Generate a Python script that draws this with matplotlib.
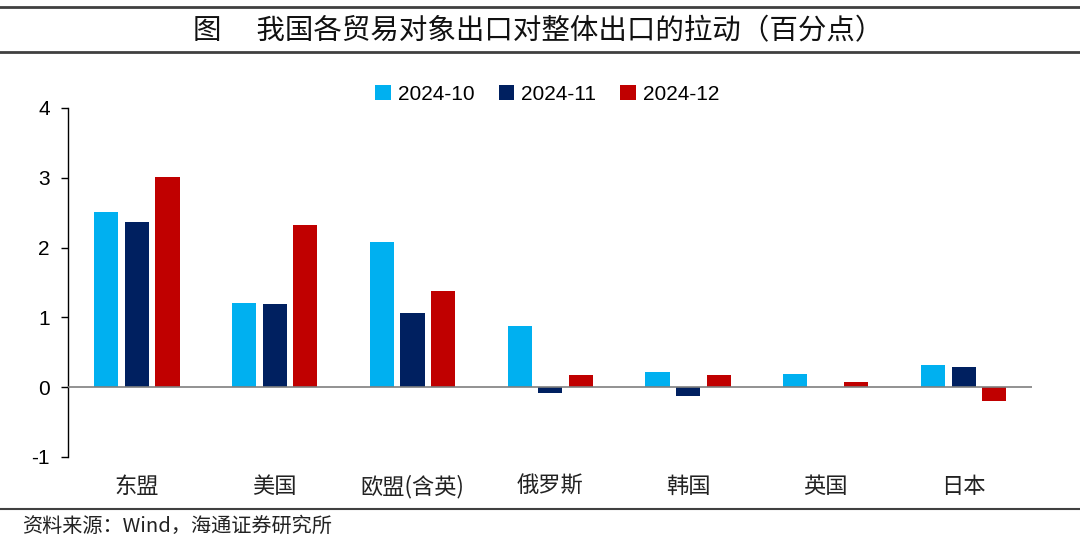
import numpy as np
import matplotlib.pyplot as plt
from matplotlib.lines import Line2D

plt.rcParams['font.family'] = ['Noto Sans CJK SC', 'DejaVu Sans']
plt.rcParams['axes.unicode_minus'] = False

categories = ['东盟', '美国', '欧盟(含英)', '俄罗斯', '韩国', '英国', '日本']
series_names = ['2024-10', '2024-11', '2024-12']
oct_vals = [2.51, 1.20, 2.08, 0.87, 0.22, 0.19, 0.32]
nov_vals = [2.37, 1.19, 1.06, -0.08, -0.12, 0.0, 0.29]
dec_vals = [3.01, 2.32, 1.38, 0.18, 0.18, 0.08, -0.20]
colors = ['#00B0F0', '#002060', '#C00000']

fig = plt.figure(figsize=(10.8, 5.37), dpi=100)
ax = fig.add_axes([0.063, 0.149, 0.893, 0.650])

x = np.arange(len(categories))
width = 0.175
step = 0.222
for i, vals in enumerate([oct_vals, nov_vals, dec_vals]):
    ax.bar(x + (i - 1) * step, vals, width, color=colors[i], label=series_names[i])

ax.axhline(0, color='#7f7f7f', lw=1.2, zorder=3)
ax.set_xlim(-0.5, len(categories) - 0.5)
ax.set_ylim(-1, 4)
ax.set_yticks([-1, 0, 1, 2, 3, 4])
ax.set_yticklabels(['-1', '0', '1', '2', '3', '4'], fontsize=15, family='Liberation Sans')
ax.set_xticks(x)
ax.set_xticklabels(categories, fontsize=16, color='#222222')
ax.tick_params(axis='x', length=0, pad=13)
ax.tick_params(axis='y', direction='out', length=5, width=1, pad=8)
for s in ['top', 'right', 'bottom']:
    ax.spines[s].set_visible(False)
ax.spines['left'].set_linewidth(1)

leg = ax.legend(loc='upper center', bbox_to_anchor=(0.497, 1.12), ncol=3, frameon=False,
                handlelength=0.75, handleheight=0.75, handletextpad=0.35, columnspacing=1.15,
                prop={'family': 'Liberation Sans', 'size': 15})

# title and decorative rules
fig.add_artist(Line2D([0, 1], [1 - 7 / 537] * 2, color='#404040', lw=2))
fig.add_artist(Line2D([0, 1], [1 - 52 / 537] * 2, color='#404040', lw=2))
fig.add_artist(Line2D([0, 1], [1 - 509 / 537] * 2, color='#404040', lw=1.5))
fig.text(0.498, 1 - 31 / 537, '图　 我国各贸易对象出口对整体出口的拉动（百分点）',
         ha='center', va='center', fontsize=20.5, color='#111111')
fig.text(22 / 1080, 1 - 526 / 537, '资料来源：Wind，海通证券研究所',
         ha='left', va='center', fontsize=14.5, color='#222222')

fig.savefig('out.png', dpi=100)
